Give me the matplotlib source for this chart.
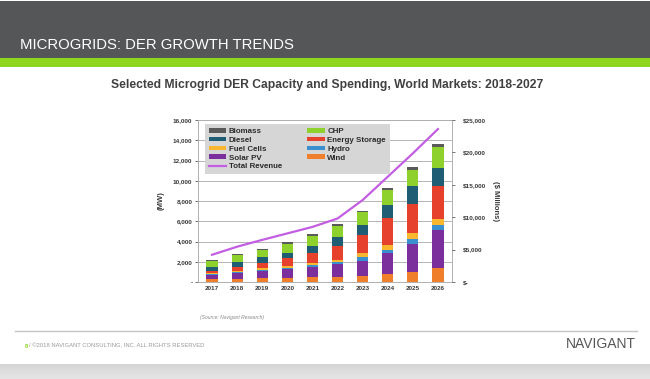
import numpy as np
import matplotlib
matplotlib.use("Agg")
import matplotlib.pyplot as plt
from matplotlib.patches import Rectangle
from matplotlib.lines import Line2D
from matplotlib.colors import LinearSegmentedColormap

plt.rcParams["font.family"] = ["Liberation Sans", "DejaVu Sans"]

# MW by technology (bottom -> top)
years = ["2017", "2018", "2019", "2020", "2021", "2022", "2023", "2024", "2025", "2026"]
wind = [250, 300, 400, 400, 450, 500, 600, 750, 1000, 1350]
solar_pv = [450, 600, 700, 900, 1000, 1250, 1500, 2100, 2800, 3750]
hydro = [50, 100, 100, 100, 200, 250, 400, 300, 450, 550]
fuel_cells = [100, 100, 150, 200, 200, 200, 350, 500, 550, 550]
energy_storage = [250, 400, 500, 750, 1000, 1400, 1800, 2650, 2950, 3300]
diesel = [350, 500, 600, 550, 750, 800, 1000, 1300, 1700, 1800]
chp = [650, 650, 750, 900, 950, 1150, 1250, 1500, 1650, 2000]
biomass = [100, 100, 100, 150, 150, 150, 150, 200, 300, 300]
# total revenue, $ millions (right axis)
revenue = [4200, 5450, 6500, 7500, 8500, 9800, 12650, 16250, 19850, 23600]

series = [
    ("Wind", wind, "#f07f2c"),
    ("Solar PV", solar_pv, "#7b2f9c"),
    ("Hydro", hydro, "#3a90cf"),
    ("Fuel Cells", fuel_cells, "#f9b730"),
    ("Energy Storage", energy_storage, "#e5412c"),
    ("Diesel", diesel, "#1e5d74"),
    ("CHP", chp, "#8fd12c"),
    ("Biomass", biomass, "#5a5a5a"),
]
rev_color = "#c35ee2"
txt = "#3a3a3a"

W, H = 650, 379
fig = plt.figure(figsize=(W / 100, H / 100), dpi=100)
fig.patch.set_facecolor("white")


def px(x0, y0, w, h):
    # pixel box (top-left origin) -> figure fraction rect
    return (x0 / W, 1 - (y0 + h) / H, w / W, h / H)


# header band + green stripe
fig.add_artist(Rectangle(px(0, 1, W, 57)[:2], 1, 57 / H, transform=fig.transFigure,
                         facecolor="#545658", edgecolor="none"))
fig.add_artist(Rectangle(px(0, 58, W, 8.5)[:2], 1, 8.5 / H, transform=fig.transFigure,
                         facecolor="#8fd61f", edgecolor="none"))
fig.text(20 / W, 1 - 45 / H, "MICROGRIDS: DER GROWTH TRENDS", color="white",
         fontsize=10.7, va="center", ha="left")

fig.text(327 / W, 1 - 85 / H,
         "Selected Microgrid DER Capacity and Spending, World Markets: 2018-2027",
         color="#404040", fontsize=8.7, fontweight="bold", ha="center", va="center")

# footer
fig.add_artist(Line2D([15 / W, 637 / W], [1 - 331 / H] * 2, transform=fig.transFigure,
                      color="#c4c4c4", lw=1))
fig.text(232 / W, 1 - 318 / H, "(Source: Navigant Research)", fontsize=3.6,
         style="italic", color="#8a8a8a", ha="center", va="center")
fig.text(25 / W, 1 - 346 / H, "8", fontsize=4.2, color="#8fd61f", ha="left", va="center",
         fontweight="bold")
fig.text(29 / W, 1 - 346 / H, "/ ©2018 NAVIGANT CONSULTING, INC. ALL RIGHTS RESERVED",
         fontsize=4.2, color="#9a9a9a", ha="left", va="center")
fig.text(636 / W, 1 - 344 / H, "NAVIGANT", fontsize=10, color="#555759",
         ha="right", va="center")
band = LinearSegmentedColormap.from_list("band", ["#d4d4d4", "#e6e6e6"])
grad = fig.add_axes(px(0, 364, W, 15))
grad.imshow(np.linspace(0, 1, 20).reshape(-1, 1), aspect="auto", cmap=band,
            extent=(0, 1, 0, 1))
grad.axis("off")

# chart
ax = fig.add_axes(px(198, 120, 254, 162))
x = np.arange(len(years))
bottom = np.zeros(len(years))
handles = {}
for name, vals, col in series:
    handles[name] = ax.bar(x, vals, width=0.45, bottom=bottom, color=col,
                           edgecolor="none", zorder=2, label=name)
    bottom += np.array(vals)

ax.set_xlim(-0.56, 9.56)
ax.set_ylim(0, 16000)
ax.set_yticks(range(0, 16001, 2000))
ax.set_yticklabels(["-"] + [f"{v:,}" for v in range(2000, 16001, 2000)])
ax.set_xticks(x)
ax.set_xticklabels(years)
ax.grid(axis="y", color="#b5b5b5", lw=0.7, zorder=0)
for s in ax.spines.values():
    s.set_color("#b0b0b0")
    s.set_linewidth(0.7)
ax.tick_params(axis="both", labelsize=4.6, colors=txt, length=2, width=0.5, pad=2)
ax.tick_params(axis="x", length=0, pad=3)
for lab in ax.get_xticklabels() + ax.get_yticklabels():
    lab.set_fontweight("bold")
ax.set_ylabel("(MW)", fontsize=5.5, fontweight="bold", color=txt, labelpad=6)

ax2 = ax.twinx()
ax2.set_ylim(0, 25000)
ax2.set_yticks(range(0, 25001, 5000))
ax2.set_yticklabels(["$-"] + [f"${v:,}" for v in range(5000, 25001, 5000)])
line, = ax2.plot(x, revenue, color=rev_color, lw=1.6, zorder=5, label="Total Revenue")
ax2.tick_params(axis="y", labelsize=4.6, colors=txt, length=2, width=0.5, pad=6)
for lab in ax2.get_yticklabels():
    lab.set_fontweight("bold")
for s in ax2.spines.values():
    s.set_visible(False)
ax2.set_ylabel("($ Millions)", fontsize=5.5, fontweight="bold", color=txt,
               rotation=270, labelpad=9)

order = ["Biomass", "Diesel", "Fuel Cells", "Solar PV"]
order2 = ["CHP", "Energy Storage", "Hydro", "Wind"]
leg_h = [handles[n] for n in order] + [line] + [handles[n] for n in order2]
leg_l = order + ["Total Revenue"] + order2
leg = ax2.legend(leg_h, leg_l, ncol=2, loc="upper left", bbox_to_anchor=(0.028, 0.975),
                 fontsize=5.7, frameon=True, fancybox=False, facecolor="#d6d6d6",
                 edgecolor="none", framealpha=1, handlelength=2.2, handleheight=0.5,
                 labelspacing=0.22, columnspacing=3.2, handletextpad=0.3,
                 borderpad=0.5, borderaxespad=0)
for t in leg.get_texts():
    t.set_fontweight("bold")
    t.set_color("#2a2a2a")

fig.savefig("out.png", dpi=100)
